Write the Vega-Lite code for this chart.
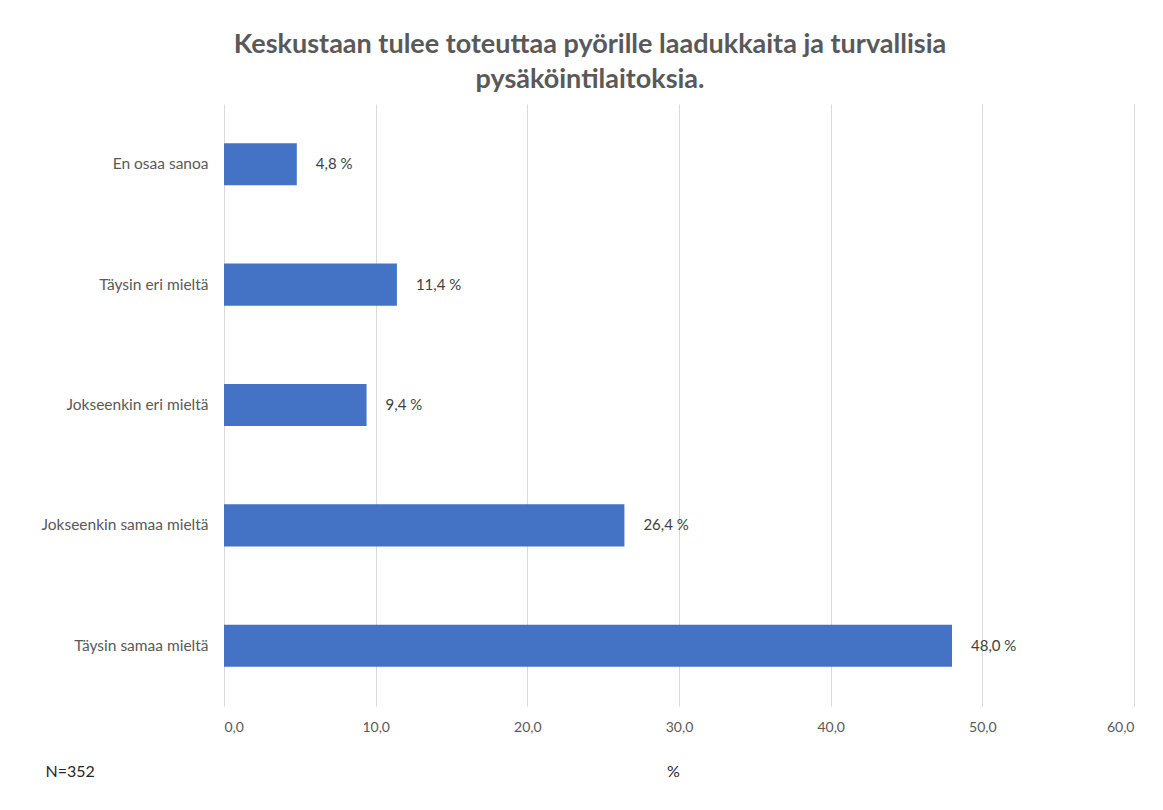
{
  "$schema": "https://vega.github.io/schema/vega-lite/v6.json",
  "width": 910,
  "height": 602,
  "autosize": {"type": "none"},
  "padding": {"left": 224, "top": 104, "right": 29, "bottom": 104},
  "background": "white",
  "title": {
    "text": ["Keskustaan tulee toteuttaa pyörille laadukkaita ja turvallisia", "pysäköintilaitoksia."],
    "anchor": "middle",
    "frame": "group",
    "dx": -89,
    "offset": 10,
    "font": "Lato",
    "fontSize": 27,
    "fontWeight": "bold",
    "color": "#595959",
    "lineHeight": 35
  },
  "data": {
    "values": [
      {"vastaus": "En osaa sanoa", "osuus": 4.8},
      {"vastaus": "Täysin eri mieltä", "osuus": 11.4},
      {"vastaus": "Jokseenkin eri mieltä", "osuus": 9.4},
      {"vastaus": "Jokseenkin samaa mieltä", "osuus": 26.4},
      {"vastaus": "Täysin samaa mieltä", "osuus": 48.0}
    ]
  },
  "encoding": {
    "y": {
      "field": "vastaus",
      "type": "nominal",
      "sort": null,
      "scale": {"paddingInner": 0.65, "paddingOuter": 0.325},
      "axis": {
        "domain": false,
        "ticks": false,
        "labelPadding": 16,
        "labelFont": "Lato",
        "labelFontSize": 15.5,
        "labelColor": "#595959",
        "title": "N=352",
        "titleAngle": 0,
        "titleAlign": "left",
        "titleBaseline": "middle",
        "titleX": -179,
        "titleY": 667,
        "titleFont": "Lato",
        "titleFontSize": 16,
        "titleFontWeight": "normal",
        "titleColor": "#262626"
      }
    },
    "x": {
      "field": "osuus",
      "type": "quantitative",
      "scale": {"domain": [0, 60], "nice": false},
      "axis": {
        "values": [0, 10, 20, 30, 40, 50, 60],
        "labelExpr": "replace(format(datum.value, '.1f'), '.', ',')",
        "grid": true,
        "gridColor": "#d9d9d9",
        "domain": false,
        "ticks": false,
        "labelPadding": 14,
        "labelFont": "Lato",
        "labelFontSize": 14,
        "labelColor": "#595959",
        "title": "%",
        "titleX": 449,
        "titleY": 65,
        "titleBaseline": "middle",
        "titleFont": "Lato",
        "titleFontSize": 16,
        "titleFontWeight": "normal",
        "titleColor": "#262626"
      }
    }
  },
  "layer": [
    {"mark": {"type": "bar", "color": "#4472C4"}},
    {
      "transform": [{"calculate": "replace(format(datum.osuus, '.1f'), '.', ',') + ' %'", "as": "teksti"}],
      "mark": {"type": "text", "align": "left", "baseline": "middle", "dx": 19, "font": "Lato", "fontSize": 15, "color": "#404040"},
      "encoding": {"text": {"field": "teksti", "type": "nominal"}}
    }
  ],
  "config": {"view": {"stroke": null}}
}
